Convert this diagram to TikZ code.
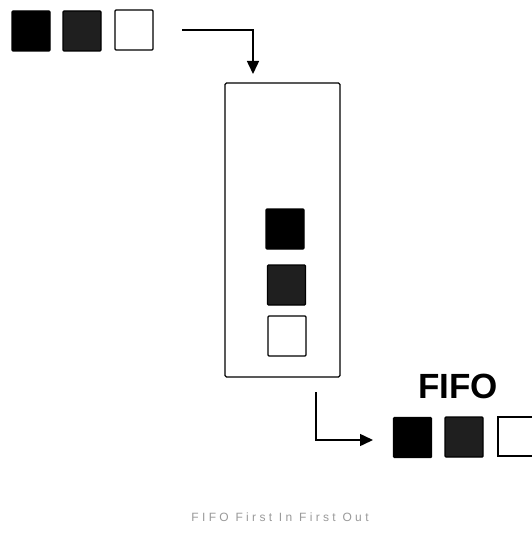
\documentclass[tikz,border=0pt]{standalone}
\usepackage{fontspec}
\setmainfont{Liberation Sans}
\usetikzlibrary{arrows.meta}
\begin{document}
\begin{tikzpicture}[x=1pt,y=-1pt,
  sq/.style={draw=black,line width=1.4pt,minimum width=38pt,minimum height=40pt,inner sep=0pt,rounded corners=1pt},
  blk/.style={sq,fill=black},
  drk/.style={sq,fill=black!88},
  wht/.style={sq,fill=white},
  conn/.style={line width=1.5pt,-{Triangle[length=13pt,width=12pt]}}]
\useasboundingbox (0,0) rectangle (532,535);
% top row
\node[blk] (t1) at (31,31) {};
\node[drk] (t2) at (82,31) {};
\node[wht] (t3) at (134,30) {};
% queue box
\node[draw,line width=1.4pt,minimum width=115pt,minimum height=294pt,inner sep=0pt,rounded corners=1.5pt] (box) at (282.5,230) {};
\node[blk] (q1) at (285,229) {};
\node[drk] (q2) at (286.5,285) {};
\node[wht] (q3) at (287,336) {};
% bottom row
\node[blk] (b1) at (412.5,437.5) {};
\node[drk] (b2) at (464,437) {};
\node[draw,line width=1.4pt,minimum width=40pt,minimum height=39pt,inner sep=0pt] (b3) at (518,436.5) {};
\node[font=\fontsize{35}{40}\selectfont\bfseries] (fifo) at (458,386) {FIFO};
% connectors
\coordinate (s1) at (182,30);
\coordinate (e1) at (253,74);
\draw[conn] (s1) -| (e1);
\coordinate (s2) at (316,392);
\coordinate (e2) at (373,440);
\draw[conn] (s2) |- (e2);
% caption
\node[text=black!40,font=\fontsize{12}{14}\selectfont\addfontfeatures{LetterSpace=28}] (cap) at (280,517) {FIFO First In First Out};
\end{tikzpicture}
\end{document}
